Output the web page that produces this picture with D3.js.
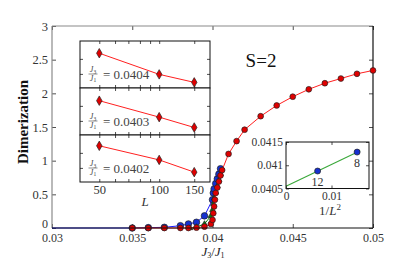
<!DOCTYPE html>
<html>
<head>
<meta charset="utf-8">
<script src="https://cdn.jsdelivr.net/npm/d3@7"></script>
<style>
  body { margin: 0; background: #fff; }
</style>
</head>
<body>
<div id="chart"></div>
<script>
const FONT = "'Liberation Serif', 'DejaVu Serif', serif";

// main plot data
const ticksX = [0.03, 0.035, 0.04, 0.045, 0.05];
const ticksY = [0, 0.5, 1, 1.5, 2, 2.5, 3];

const redX = [0.035, 0.036, 0.037, 0.038, 0.0385, 0.039, 0.0395, 0.0399, 0.04, 0.04005, 0.0401, 0.04015,
  0.0402, 0.0403, 0.0404, 0.0405, 0.0406, 0.041, 0.0415, 0.042, 0.043, 0.044, 0.045, 0.046, 0.047, 0.048, 0.049, 0.05];
const redY = [0, 0, 0, 0, 0, 0.005, 0.02, 0.06, 0.12, 0.22, 0.32, 0.42,
  0.52, 0.6, 0.69, 0.78, 0.86, 1.1, 1.29, 1.46, 1.66, 1.82, 1.95, 2.06, 2.15, 2.22, 2.29, 2.34];

const blueX = [0.035, 0.036, 0.037, 0.038, 0.0385, 0.039, 0.0395, 0.04, 0.04005, 0.0401, 0.0402, 0.0403, 0.0404, 0.0405];
const blueY = [0, 0.005, 0.01, 0.034, 0.06, 0.085, 0.18, 0.42, 0.52, 0.58, 0.66, 0.73, 0.8, 0.88];

const greenX = [0.0386, 0.039, 0.0395, 0.0399, 0.04, 0.04005, 0.0401, 0.0402, 0.0403, 0.0404, 0.0405];
const greenY = [0, 0.015, 0.06, 0.18, 0.27, 0.36, 0.44, 0.53, 0.62, 0.71, 0.8];

// left inset: three panels vs L
const insetL = [50, 100, 150];
const insetTicksL = [50, 60, 70, 80, 90, 100, 150];
const insetLabelsL = [50, 100, 150];
const panelNames = ["0.0404", "0.0403", "0.0402"];
const panelVals = [
  [0.74, 0.29, 0.12],
  [0.73, 0.38, 0.16],
  [0.77, 0.47, 0.21]
];
const panelTicks = [0.3, 0.62];

// right inset: critical point vs 1/L^2
const sizeLabels = ["12", "8"];
const invL2 = [1 / 144, 1 / 64];
const critJ = [0.040876, 0.041283];
const fitX = [0, 0.0163];
const fitY = [0.04055, 0.041314];
const inv2TicksX = [0, 0.01];
const inv2TicksY = [0.0405, 0.041, 0.0415];

const svg = d3.select("#chart").append("svg")
  .attr("width", 415)
  .attr("height", 260);

const x = d3.scaleLinear().domain([0.03, 0.05]).range([52, 373]);
const y = d3.scaleLinear().domain([0, 3]).range([228, 26]);

const styleAxis = (g, size) => {
  g.select(".domain").remove();
  g.selectAll(".tick line").attr("stroke", "#222").attr("stroke-width", 0.8);
  g.selectAll(".tick text")
    .attr("fill", "#333")
    .style("font-size", size + "px");
};

// main axes
svg.append("g")
  .attr("transform", "translate(0,228)")
  .call(d3.axisBottom(x).tickValues(ticksX).tickSize(-4).tickPadding(5).tickFormat(d => String(d)))
  .call(g => styleAxis(g, 12));
svg.append("g")
  .attr("transform", "translate(0,26)")
  .call(d3.axisTop(x).tickValues(ticksX).tickSize(-4).tickFormat(""))
  .call(g => styleAxis(g, 12));
svg.append("g")
  .attr("transform", "translate(52,0)")
  .call(d3.axisLeft(y).tickValues(ticksY).tickSize(-4).tickPadding(4).tickFormat(d => String(d)))
  .call(g => styleAxis(g, 12.5))
  .call(g => g.selectAll(".tick text").filter(d => d === 0).style("font-size", "12px").attr("y", -4.5));
svg.append("g")
  .attr("transform", "translate(373,0)")
  .call(d3.axisRight(y).tickValues(ticksY).tickSize(-4).tickFormat(""))
  .call(g => styleAxis(g, 12));

// spines
svg.append("line").attr("x1", 52).attr("x2", 52).attr("y1", 26).attr("y2", 228).attr("stroke", "#8a8a8a").attr("stroke-width", 1.2);
svg.append("line").attr("x1", 52).attr("x2", 373).attr("y1", 26).attr("y2", 26).attr("stroke", "#8a8a8a").attr("stroke-width", 1.2);
svg.append("line").attr("x1", 373).attr("x2", 373).attr("y1", 26).attr("y2", 228).attr("stroke", "#111").attr("stroke-width", 1.2);

const line = d3.line().x(d => x(d[0])).y(d => y(d[1]));

const drawSeries = (xs, ys, color, fill, shape, size) => {
  const pts = xs.map((v, i) => [v, ys[i]]);
  svg.append("path")
    .datum(pts)
    .attr("fill", "none")
    .attr("stroke", color)
    .attr("stroke-width", 1)
    .attr("d", line);
  svg.selectAll(null)
    .data(pts)
    .enter().append("path")
    .attr("transform", d => `translate(${x(d[0])},${y(d[1])})`)
    .attr("d", d3.symbol().type(shape).size(size))
    .attr("fill", fill)
    .attr("stroke", "#222")
    .attr("stroke-width", 0.7);
};

// blue line runs along zero from the left edge
svg.append("line")
  .attr("x1", x(0.03)).attr("x2", x(0.035))
  .attr("y1", y(0)).attr("y2", y(0))
  .attr("stroke", "#1a1aff").attr("stroke-width", 1.2);

drawSeries(blueX, blueY, "#1a1aff", "#1530d0", d3.symbolCircle, 34);
drawSeries(greenX, greenY, "#0a8a0a", "#0a7a0a", d3.symbolTriangle, 14);
drawSeries(redX, redY, "#ff2020", "#e00000", d3.symbolCircle, 26);

svg.append("line").attr("x1", 52).attr("x2", 373).attr("y1", 228).attr("y2", 228).attr("stroke", "#111").attr("stroke-width", 1.2);

// axis titles
svg.append("text")
  .attr("transform", "translate(28,122) rotate(-90)")
  .attr("text-anchor", "middle")
  .attr("font-weight", "bold")
  .style("font-size", "15px")
  .attr("fill", "#111")
  .text("Dimerization");

const xTitle = svg.append("text")
  .attr("x", 213).attr("y", 256)
  .attr("text-anchor", "middle")
  .attr("fill", "#222")
  .style("font-size", "13px");
xTitle.append("tspan").attr("font-style", "italic").text("J");
xTitle.append("tspan").attr("dy", 1.8).style("font-size", "8px").text("3");
xTitle.append("tspan").attr("dy", -1.8).text("/");
xTitle.append("tspan").attr("font-style", "italic").text("J");
xTitle.append("tspan").attr("dy", 1.8).style("font-size", "8px").text("1");

svg.append("text")
  .attr("x", 261).attr("y", 67)
  .attr("text-anchor", "middle")
  .attr("fill", "#111")
  .style("font-size", "19px")
  .text("S=2");

// left inset, three stacked panels
const insLeft = 80, insRight = 210, panelH = 47, panelTop = 41;
const xL = d3.scaleLog().domain([40, 180]).range([insLeft, insRight]);

const fraction = (g, cx, cy) => {
  const t = g.append("text").attr("text-anchor", "middle").attr("fill", "#444").style("font-size", "8px");
  t.append("tspan").attr("x", cx).attr("y", cy - 2).attr("font-style", "italic").text("J");
  t.append("tspan").attr("dy", 1.5).style("font-size", "5.5px").text("3");
  const b = g.append("text").attr("text-anchor", "middle").attr("fill", "#444").style("font-size", "8px");
  b.append("tspan").attr("x", cx).attr("y", cy + 6.5).attr("font-style", "italic").text("J");
  b.append("tspan").attr("dy", 1.5).style("font-size", "5.5px").text("1");
  g.append("line").attr("x1", cx - 4.5).attr("x2", cx + 4.5).attr("y1", cy).attr("y2", cy)
    .attr("stroke", "#444").attr("stroke-width", 0.6);
};

panelVals.forEach((vals, p) => {
  const top = panelTop + p * panelH;
  const yP = d3.scaleLinear().domain([0, 1]).range([top + panelH, top]);
  const g = svg.append("g");
  g.append("rect")
    .attr("x", insLeft).attr("y", top)
    .attr("width", insRight - insLeft).attr("height", panelH)
    .attr("fill", "#fff");

  g.append("g").attr("transform", `translate(0,${top})`)
    .call(d3.axisTop(xL).tickValues(insetTicksL).tickSize(-3).tickFormat(""))
    .call(a => styleAxis(a, 11));
  g.append("g").attr("transform", `translate(0,${top + panelH})`)
    .call(d3.axisBottom(xL).tickValues(insetTicksL).tickSize(-3).tickPadding(3)
      .tickFormat(d => (p === 2 && insetLabelsL.includes(d)) ? String(d) : ""))
    .call(a => styleAxis(a, 12.5));
  g.append("g").attr("transform", `translate(${insLeft},0)`)
    .call(d3.axisLeft(yP).tickValues(panelTicks).tickSize(-3).tickFormat(""))
    .call(a => styleAxis(a, 11));
  g.append("g").attr("transform", `translate(${insRight},0)`)
    .call(d3.axisRight(yP).tickValues(panelTicks).tickSize(-3).tickFormat(""))
    .call(a => styleAxis(a, 11));

  const pts = insetL.map((L, i) => [L, vals[i]]);
  g.append("path")
    .datum(pts)
    .attr("fill", "none")
    .attr("stroke", "#ff2020")
    .attr("stroke-width", 1)
    .attr("d", d3.line().x(d => xL(d[0])).y(d => yP(d[1])));
  g.selectAll(null)
    .data(pts)
    .enter().append("path")
    .attr("transform", d => `translate(${xL(d[0])},${yP(d[1])})`)
    .attr("d", d3.symbol().type(d3.symbolDiamond).size(26))
    .attr("fill", "#e00000")
    .attr("stroke", "#222")
    .attr("stroke-width", 0.7);

  fraction(g, 93, top + 33);
  g.append("text")
    .attr("x", 103).attr("y", top + 38)
    .attr("fill", "#444")
    .style("font-size", "13px")
    .text("= " + panelNames[p]);

  g.append("rect")
    .attr("x", insLeft).attr("y", top)
    .attr("width", insRight - insLeft).attr("height", panelH)
    .attr("fill", "none").attr("stroke", "#111").attr("stroke-width", 1);
});

svg.append("text")
  .attr("x", 145).attr("y", 206)
  .attr("text-anchor", "middle")
  .attr("font-style", "italic")
  .attr("fill", "#333")
  .style("font-size", "13px")
  .text("L");

// right inset
const x2 = d3.scaleLinear().domain([0, 0.01824]).range([286, 369]);
const y2 = d3.scaleLinear().domain([0.0405, 0.0415]).range([188.5, 142]);
const g2 = svg.append("g");
g2.append("rect").attr("x", 286).attr("y", 142).attr("width", 83).attr("height", 46.5).attr("fill", "#fff");
g2.append("g").attr("transform", "translate(0,188.5)")
  .call(d3.axisBottom(x2).tickValues(inv2TicksX).tickSize(-3).tickPadding(3).tickFormat(d => String(d)))
  .call(a => styleAxis(a, 11.5));
g2.append("g").attr("transform", "translate(0,142)")
  .call(d3.axisTop(x2).tickValues(inv2TicksX).tickSize(-3).tickFormat(""))
  .call(a => styleAxis(a, 11));
g2.append("g").attr("transform", "translate(286,0)")
  .call(d3.axisLeft(y2).tickValues(inv2TicksY).tickSize(-3).tickPadding(3).tickFormat(d => String(d)))
  .call(a => styleAxis(a, 11.5));
g2.append("g").attr("transform", "translate(369,0)")
  .call(d3.axisRight(y2).tickValues(inv2TicksY).tickSize(-3).tickFormat(""))
  .call(a => styleAxis(a, 11));

g2.append("path")
  .datum(fitX.map((v, i) => [v, fitY[i]]))
  .attr("fill", "none")
  .attr("stroke", "#3aa83a")
  .attr("stroke-width", 1.1)
  .attr("d", d3.line().x(d => x2(d[0])).y(d => y2(d[1])));
g2.selectAll(null)
  .data(invL2)
  .enter().append("circle")
  .attr("cx", d => x2(d))
  .attr("cy", (d, i) => y2(critJ[i]))
  .attr("r", 3)
  .attr("fill", "#1530d0")
  .attr("stroke", "#222")
  .attr("stroke-width", 0.7);
g2.selectAll(null)
  .data(invL2)
  .enter().append("text")
  .attr("x", d => x2(d))
  .attr("y", (d, i) => y2(critJ[i]) + 15)
  .attr("text-anchor", "middle")
  .attr("fill", "#333")
  .style("font-size", "12px")
  .text((d, i) => sizeLabels[i]);
g2.append("rect").attr("x", 286).attr("y", 142).attr("width", 83).attr("height", 46.5)
  .attr("fill", "none").attr("stroke", "#111").attr("stroke-width", 1);

const x2Title = svg.append("text")
  .attr("x", 330).attr("y", 215)
  .attr("text-anchor", "middle")
  .attr("fill", "#333")
  .style("font-size", "13px");
x2Title.append("tspan").text("1/");
x2Title.append("tspan").attr("font-style", "italic").text("L");
x2Title.append("tspan").attr("dy", -5).style("font-size", "9px").text("2");

// one serif face for every label
svg.selectAll("text").style("font-family", FONT);
</script>
</body>
</html>
